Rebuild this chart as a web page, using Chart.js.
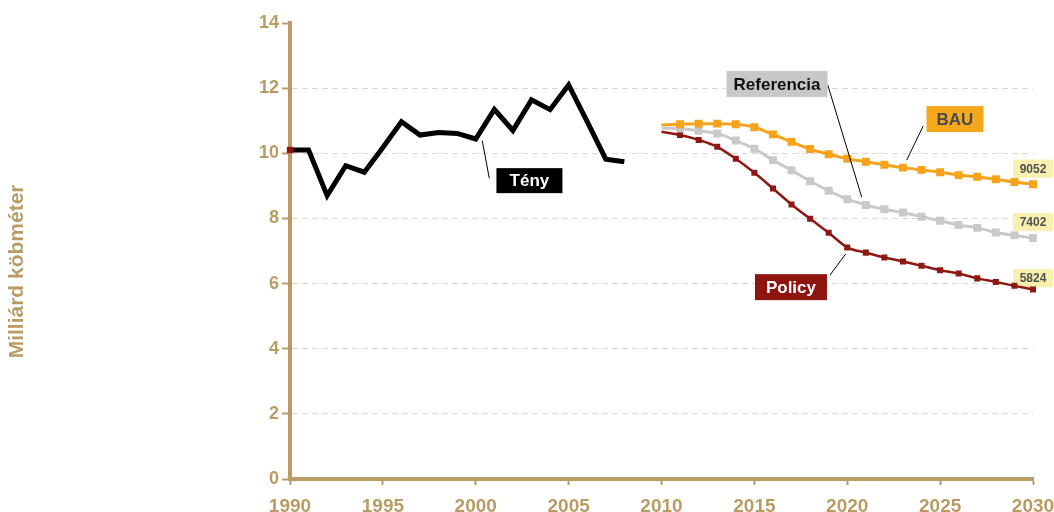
<!DOCTYPE html>
<html>
<head>
<meta charset="utf-8">
<script src="https://cdn.jsdelivr.net/npm/chart.js@4.4.1/dist/chart.umd.min.js"></script>
<style>
  html, body { margin: 0; padding: 0; background: #fff; }
  #wrap { width: 1054px; height: 512px; position: relative; }
</style>
</head>
<body>
<div id="wrap"><canvas id="chart"></canvas></div>
<script>
// historical (Tény)
const histYears = [1990, 1991, 1992, 1993, 1994, 1995, 1996, 1997, 1998, 1999, 2000, 2001, 2002, 2003, 2004, 2005, 2006, 2007, 2008];
const tenyValues = [10.1, 10.1, 8.7, 9.62, 9.42, 10.18, 10.97, 10.56, 10.64, 10.61, 10.44, 11.35, 10.7, 11.64, 11.34, 12.1, 10.97, 9.82, 9.74];

// scenarios
const forecastYears = [2010, 2011, 2012, 2013, 2014, 2015, 2016, 2017, 2018, 2019, 2020, 2021, 2022, 2023, 2024, 2025, 2026, 2027, 2028, 2029, 2030];
const bauValues = [10.87, 10.89, 10.91, 10.91, 10.89, 10.8, 10.58, 10.35, 10.13, 9.97, 9.83, 9.74, 9.65, 9.56, 9.49, 9.42, 9.33, 9.28, 9.2, 9.12, 9.05];
const referenciaValues = [10.77, 10.76, 10.69, 10.61, 10.39, 10.14, 9.79, 9.48, 9.14, 8.85, 8.59, 8.41, 8.28, 8.18, 8.05, 7.93, 7.8, 7.71, 7.57, 7.48, 7.4];
const policyValues = [10.66, 10.56, 10.41, 10.2, 9.83, 9.4, 8.92, 8.43, 7.99, 7.56, 7.11, 6.95, 6.8, 6.68, 6.55, 6.41, 6.31, 6.16, 6.05, 5.93, 5.82];

const yTicks = [0, 2, 4, 6, 8, 10, 12, 14];
const xTicks = [1990, 1995, 2000, 2005, 2010, 2015, 2020, 2025, 2030];
const endLabels = ["9052", "7402", "5824"];

const TAN = "#b89c63";
const FONT = "'Liberation Sans', Arial, sans-serif";

const pts = (xs, ys) => xs.map((x, i) => ({ x: x, y: ys[i] }));

// callout boxes, placed in data units
const callouts = [
  { text: "Tény", at: [2002.89, 9.16], w: 66, h: 25, bg: "#000000", color: "#ffffff", line: [2000.35, 10.39, 2000.73, 9.23] },
  { text: "Referencia", at: [2016.22, 12.13], w: 101, h: 26, bg: "#c8c8c8", color: "#111111", line: [2018.95, 12.1, 2020.78, 8.65] },
  { text: "BAU", at: [2025.8, 11.05], w: 57, h: 26, bg: "#f6a81d", color: "#4a4a4a", line: [2024.09, 10.84, 2023.2, 9.79] },
  { text: "Policy", at: [2016.97, 5.89], w: 72, h: 26, bg: "#8e1410", color: "#ffffff", line: [2019.07, 6.26, 2019.92, 6.91] }
];
const endLabelY = [9.53, 7.89, 6.17];

const calloutPlugin = {
  id: "callouts",
  beforeDatasetsDraw(chart) {
    // value labels at the end of the scenarios sit under the lines
    const { ctx, scales: { x, y } } = chart;
    ctx.save();
    endLabels.forEach((t, i) => {
      const cx = x.getPixelForValue(2030);
      const cy = y.getPixelForValue(endLabelY[i]);
      ctx.fillStyle = "#f7f0ae";
      ctx.fillRect(cx - 20, cy - 9, 40, 18);
      ctx.fillStyle = "#505050";
      ctx.font = "bold 12px " + FONT;
      ctx.textAlign = "center";
      ctx.textBaseline = "middle";
      ctx.fillText(t, cx, cy + 1);
    });
    ctx.restore();
  },
  afterDatasetsDraw(chart) {
    const { ctx, scales: { x, y } } = chart;
    ctx.save();
    callouts.forEach(c => {
      ctx.strokeStyle = "#000";
      ctx.lineWidth = 1;
      ctx.beginPath();
      ctx.moveTo(x.getPixelForValue(c.line[0]), y.getPixelForValue(c.line[1]));
      ctx.lineTo(x.getPixelForValue(c.line[2]), y.getPixelForValue(c.line[3]));
      ctx.stroke();
      const cx = x.getPixelForValue(c.at[0]);
      const cy = y.getPixelForValue(c.at[1]);
      ctx.fillStyle = c.bg;
      ctx.fillRect(cx - c.w / 2, cy - c.h / 2, c.w, c.h);
      ctx.fillStyle = c.color;
      ctx.font = "bold 17px " + FONT;
      ctx.textAlign = "center";
      ctx.textBaseline = "middle";
      ctx.fillText(c.text, cx, cy + 1);
    });
    ctx.restore();
  }
};

const ctx = document.getElementById("chart").getContext("2d");
new Chart(ctx, {
  type: "line",
  data: {
    datasets: [
      {
        label: "BAU",
        data: pts(forecastYears, bauValues),
        borderColor: "#f5a31b",
        backgroundColor: "#f5a31b",
        borderWidth: 3,
        pointStyle: "rect",
        pointRadius: c => (c.dataIndex === 0 ? 0 : 3.5),
        cubicInterpolationMode: "monotone",
        clip: false
      },
      {
        label: "Referencia",
        data: pts(forecastYears, referenciaValues),
        borderColor: "#c9c9c9",
        backgroundColor: "#c9c9c9",
        borderWidth: 3,
        pointStyle: "rect",
        pointRadius: c => (c.dataIndex === 0 ? 0 : 3.5),
        cubicInterpolationMode: "monotone",
        clip: false
      },
      {
        label: "Policy",
        data: pts(forecastYears, policyValues),
        borderColor: "#8e1912",
        backgroundColor: "#8e1912",
        borderWidth: 2.5,
        pointStyle: "rect",
        pointRadius: c => (c.dataIndex === 0 ? 0 : 2.5),
        cubicInterpolationMode: "monotone",
        clip: false
      },
      {
        label: "Tény",
        data: pts(histYears, tenyValues),
        borderColor: "#000000",
        borderWidth: 5,
        pointStyle: "rect",
        pointRadius: c => (c.dataIndex === 0 ? 4.5 : 0),
        pointBackgroundColor: "#8e1410",
        pointBorderWidth: 0,
        tension: 0,
        clip: false
      }
    ]
  },
  options: {
    responsive: true,
    maintainAspectRatio: false,
    animation: false,
    layout: { padding: { top: 23, right: 21, left: 0, bottom: 0 } },
    plugins: {
      legend: { display: false },
      tooltip: { enabled: false }
    },
    scales: {
      x: {
        type: "linear",
        min: 1990,
        max: 2030,
        afterBuildTicks: s => { s.ticks = xTicks.map(v => ({ value: v })); },
        afterFit: s => { s.height = 33; s.paddingLeft = 0; s.paddingRight = 0; },
        ticks: {
          color: TAN,
          font: { family: FONT, size: 19, weight: "bold" },
          padding: 10,
          maxRotation: 0,
          callback: v => String(v)
        },
        grid: {
          drawOnChartArea: false,
          drawTicks: true,
          tickLength: 6,
          tickColor: TAN,
          tickWidth: 2
        },
        border: { color: TAN, width: 4 }
      },
      y: {
        min: 0,
        max: 14,
        afterBuildTicks: s => { s.ticks = yTicks.map(v => ({ value: v })); },
        afterFit: s => { s.width = 290; },
        ticks: {
          color: TAN,
          font: { family: FONT, size: 18, weight: "bold" },
          padding: 3
        },
        grid: {
          color: c => (c.tick && (c.tick.value === 0 || c.tick.value === 14) ? "rgba(0,0,0,0)" : "#d9d9d9"),
          lineWidth: 1,
          tickLength: 8,
          tickColor: TAN,
          tickWidth: 2
        },
        border: { color: TAN, width: 4, dash: [6, 4] },
        title: {
          display: true,
          text: "Milliárd köbméter       ",
          color: TAN,
          font: { family: FONT, size: 21, weight: "bold" },
          padding: { top: 5, bottom: 0 }
        }
      }
    }
  },
  plugins: [calloutPlugin]
});
</script>
</body>
</html>
